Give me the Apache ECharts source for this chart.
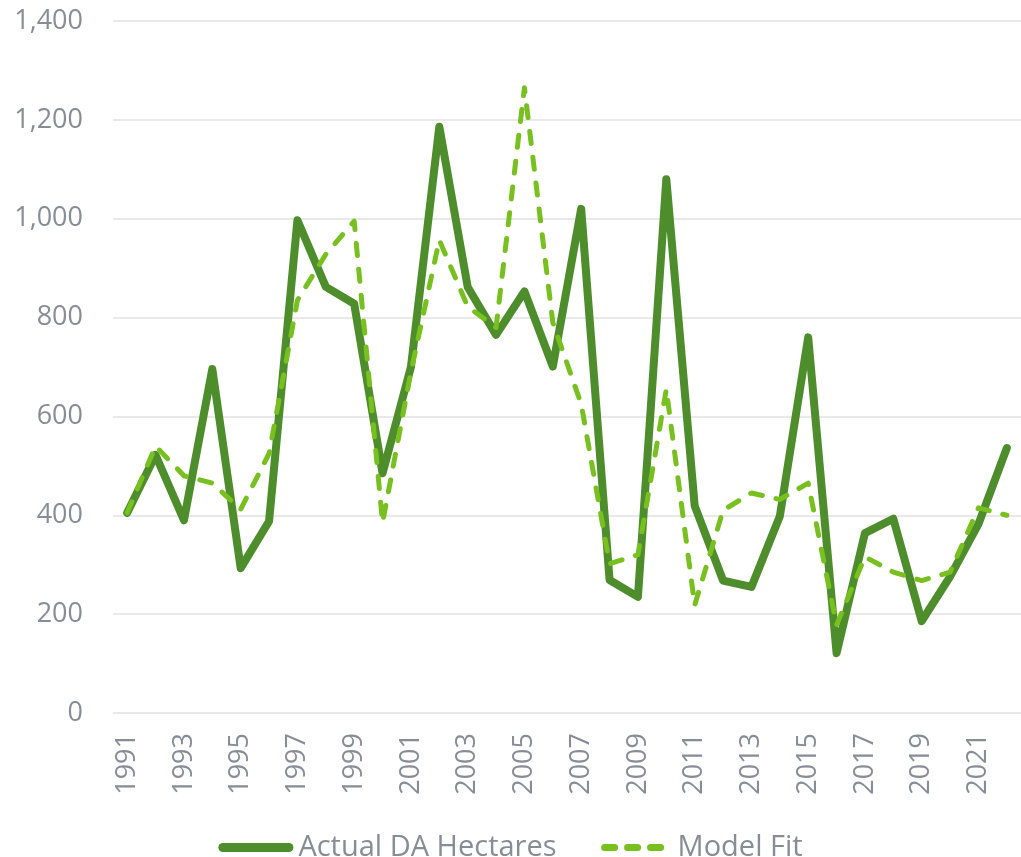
<!DOCTYPE html>
<html>
<head>
<meta charset="utf-8">
<script src="https://cdn.jsdelivr.net/npm/echarts@6/dist/echarts.min.js"></script>
<style>
html,body{margin:0;padding:0;background:#fff;}
#c{width:1021px;height:857px;}
</style>
</head>
<body>
<div id="c"></div>
<script>
const years = ['1991','1992','1993','1994','1995','1996','1997','1998','1999','2000','2001','2002','2003','2004','2005','2006','2007','2008','2009','2010','2011','2012','2013','2014','2015','2016','2017','2018','2019','2020','2021','2022'];
const actual = [405,522,390,696,293,388,997,862,828,485,700,1186,862,765,853,701,1020,269,235,1080,419,268,255,398,760,121,364,393,186,276,382,536];
const modelFit = [405,540,480,465,412,525,835,928,995,385,690,957,822,780,1265,790,625,302,320,655,218,410,445,432,465,178,316,285,268,285,415,400];
const yTicks = {min:0, max:1400, interval:200};

const solidIcon = 'path://M4.5,0h66a4.5,4.5 0 0 1 0,9h-66a4.5,4.5 0 0 1 0,-9z';
const dashIcon = 'path://M4,1h10a3.5,3.5 0 0 1 0,7h-10a3.5,3.5 0 0 1 0,-7z'
  + 'M27,1h10a3.5,3.5 0 0 1 0,7h-10a3.5,3.5 0 0 1 0,-7z'
  + 'M50,1h10a3.5,3.5 0 0 1 0,7h-10a3.5,3.5 0 0 1 0,-7z'
  + 'M0,0L0.01,0L0.01,0.01z M69,9L69.01,9L69.01,8.99z';

const chart = echarts.init(document.getElementById('c'));
chart.setOption({
  animation:false,
  textStyle:{fontFamily:'"Open Sans", sans-serif'},
  grid:{left:113, right:-3, top:21, bottom:144},
  legend:{
    top:828, left:'center',
    itemWidth:75, itemHeight:9, itemGap:44,
    textStyle:{fontSize:29, color:'#878d96', fontFamily:'"Open Sans", sans-serif'},
    data:[
      {name:'Actual DA Hectares', icon:solidIcon, itemStyle:{color:'#4e8d2c'}},
      {name:'Model Fit', icon:dashIcon, itemStyle:{color:'#77c01f'}}
    ]
  },
  xAxis:{
    type:'category', data:years, boundaryGap:true,
    axisLine:{show:false}, axisTick:{show:false},
    axisLabel:{rotate:90, interval:1, fontSize:27, color:'#878d96', margin:20}
  },
  yAxis:{
    type:'value', min:yTicks.min, max:yTicks.max, interval:yTicks.interval,
    axisLine:{show:false}, axisTick:{show:false},
    splitLine:{lineStyle:{color:'#e2e2e2', width:1.5}},
    axisLabel:{fontSize:27, color:'#878d96', margin:30,
      formatter:v=>v.toLocaleString('en-US')}
  },
  series:[
    {name:'Actual DA Hectares', type:'line', data:actual, symbol:'none',
      itemStyle:{color:'#4e8d2c'},
      lineStyle:{color:'#4e8d2c', width:8, cap:'round', join:'round'}, z:2},
    {name:'Model Fit', type:'line', data:modelFit, symbol:'none',
      itemStyle:{color:'#77c01f'},
      lineStyle:{color:'#77c01f', width:5, type:[12,14], cap:'round', join:'round'}, z:3}
  ]
});
</script>
</body>
</html>
